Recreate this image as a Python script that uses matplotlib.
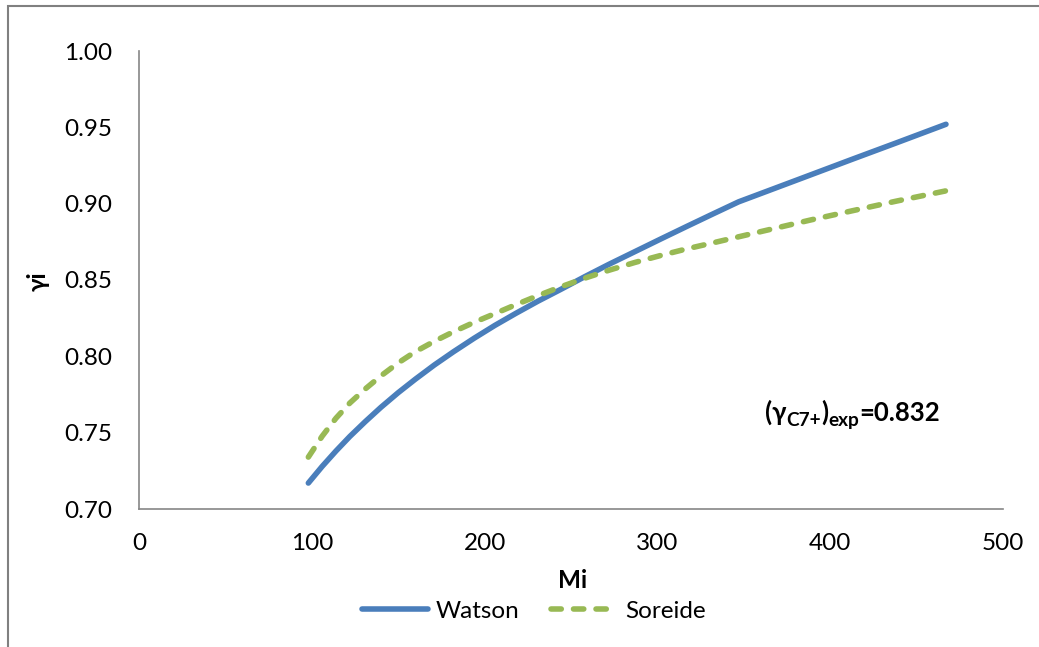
import matplotlib
matplotlib.use("Agg")
import matplotlib.pyplot as plt
from matplotlib.patches import Rectangle
from matplotlib.lines import Line2D

plt.rcParams['font.family'] = ['Lato', 'DejaVu Sans']

# Molecular weight of the fractions
mi = [98, 106, 114, 122, 131, 140, 150, 160, 171, 182, 194, 206, 218, 231, 244,
      258, 272, 287, 302, 317, 332, 347, 364, 389, 413, 438, 467]
# Specific gravity by correlation
watson = [0.717, 0.7279, 0.7380, 0.7475, 0.7573, 0.7666, 0.7762, 0.7851, 0.7944,
          0.8030, 0.8119, 0.8203, 0.8281, 0.8362, 0.8438, 0.8522, 0.8603, 0.8686,
          0.8769, 0.8851, 0.8932, 0.9012, 0.9084, 0.9190, 0.9292, 0.9397, 0.952]
soreide = [0.734, 0.7477, 0.7595, 0.7694, 0.7787, 0.7872, 0.7957, 0.8031, 0.8099,
           0.8161, 0.8223, 0.8280, 0.8338, 0.8398, 0.8455, 0.8512, 0.8564, 0.8615,
           0.8661, 0.8704, 0.8743, 0.8783, 0.8828, 0.8894, 0.8954, 0.9016, 0.9084]

x_ticks = [0, 100, 200, 300, 400, 500]
y_ticks = [0.70, 0.75, 0.80, 0.85, 0.90, 0.95, 1.00]

blue = '#4A7EBB'
green = '#98B954'
spine_c = '#868686'
FS = 17.5
LW = 4.0
DASH = (1.85, 2.2)

W, H = 1039, 647
fig = plt.figure(figsize=(W / 100, H / 100), dpi=100)
ax = fig.add_axes([139 / W, 1 - 509 / H, (1003 - 139) / W, (509 - 51) / H])

ax.plot(mi, watson, color=blue, lw=LW, solid_capstyle='round', solid_joinstyle='round',
        label='Watson')
ax.plot(mi, soreide, color=green, lw=LW, dashes=DASH, dash_capstyle='round',
        dash_joinstyle='round', label='Soreide')

ax.set_xlim(0, 500)
ax.set_ylim(0.70, 1.00)
ax.set_xticks(x_ticks)
ax.set_yticks(y_ticks)
ax.set_xticklabels([str(v) for v in x_ticks])
ax.set_yticklabels([f'{v:.2f}' for v in y_ticks])
ax.tick_params(axis='both', length=0, labelsize=FS, colors='black')
ax.tick_params(axis='x', pad=17)
ax.tick_params(axis='y', pad=19)
for s in ['top', 'right']:
    ax.spines[s].set_visible(False)
for s in ['left', 'bottom']:
    ax.spines[s].set_color(spine_c)
    ax.spines[s].set_linewidth(1.2)

fig.text(573 / W, 1 - 581 / H, 'Mi', ha='center', va='center', fontsize=FS, fontweight='bold')
fig.text(38 / W, 1 - 281 / H, 'γi', ha='center', va='center', fontsize=FS,
         fontweight='bold', rotation=90)

# Experimental C7+ specific gravity, built piece by piece with subscripts
base_y = 1 - 421 / H
main_fs = 18.5
sub_fs = main_fs * 0.74
pieces = [('(γ', main_fs, 0), ('C7+', sub_fs, -3.5), (')', main_fs, 0),
          ('exp', sub_fs, -3.5), ('=0.832', main_fs, 0)]
prev = None
for txt, size, dy in pieces:
    if prev is None:
        prev = fig.text(765 / W, base_y, txt, ha='left', va='baseline',
                        fontsize=size, fontweight='bold')
    else:
        prev = ax.annotate(txt, xy=(1, base_y), xycoords=(prev, 'figure fraction'),
                           xytext=(0, dy), textcoords='offset points',
                           ha='left', va='baseline', fontsize=size, fontweight='bold',
                           annotation_clip=False)

handles = [Line2D([], [], color=blue, lw=LW, solid_capstyle='round'),
           Line2D([], [], color=green, lw=LW, dashes=DASH, dash_capstyle='round')]
fig.legend(handles, ['Watson', 'Soreide'], loc='center', bbox_to_anchor=(534 / W, 1 - 611 / H),
           ncol=2, frameon=False, fontsize=FS, handlelength=2.7, handletextpad=0.35,
           columnspacing=1.3)

fig.patches.append(Rectangle((8 / W, -0.1), 1.2, 1.1 - 6 / H, transform=fig.transFigure,
                             fill=False, edgecolor='#808080', lw=1.5))

fig.savefig('out.png', dpi=100)
